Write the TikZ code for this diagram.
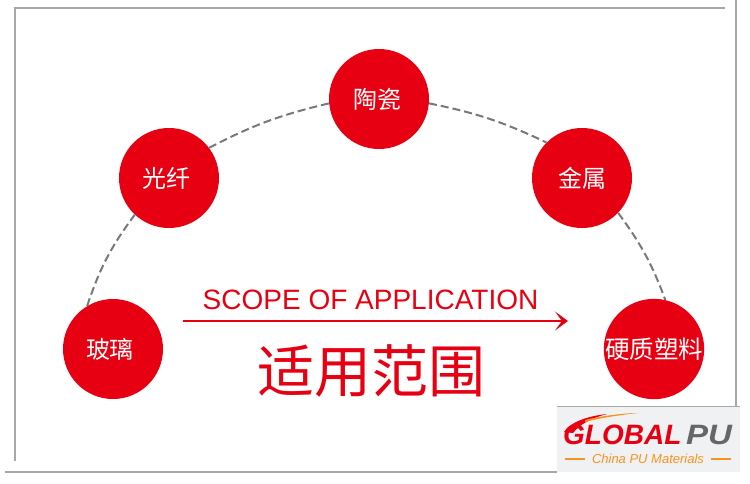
\documentclass[tikz,border=0pt]{standalone}
\usepackage{fontspec}
\setmainfont{Liberation Sans}
\newfontfamily\cjk{Noto Sans CJK SC}
\usetikzlibrary{arrows.meta}
\definecolor{rd}{HTML}{E60012}
\definecolor{framecol}{HTML}{A8A8A8}
\definecolor{dashcol}{HTML}{787878}
\definecolor{org}{HTML}{F7941E}
\definecolor{logobg}{HTML}{F0F1F3}
\tikzset{
 circ/.style={circle,fill=rd,minimum size=100pt,inner sep=0pt,text=white,font=\cjk\fontsize{24}{24}\selectfont},
 arcline/.style={draw=dashcol,line width=2pt,dash pattern=on 8pt off 4pt},
 frameline/.style={draw=framecol,line width=1.5pt}
}
\begin{document}
\begin{tikzpicture}[x=1pt,y=-1pt]
\useasboundingbox (0,0) rectangle (750,483);
\coordinate (f1) at (725,8); \coordinate (f2) at (15,8); \coordinate (f3) at (15,461);
\draw[frameline] (f1) -- (f2) -- (f3);
\coordinate (r1) at (736,0); \coordinate (r2) at (736,406);
\draw[frameline] (r1) -- (r2);
\coordinate (b1) at (5,472); \coordinate (b2) at (557,472);
\draw[frameline] (b1) -- (b2);
\node[circ] (a) at (113,349) {\hspace*{-6pt}玻璃};
\node[circ] (b) at (169,178) {\hspace*{-5pt}光纤};
\node[circ] (c) at (379,99) {\hspace*{-4pt}陶瓷};
\node[circ] (d) at (582,178) {金属};
\node[circ,font=\cjk\fontsize{24.5}{24.5}\selectfont] (e) at (654,349) {硬质塑料};
\draw[arcline] (a.121) to[bend left=9] (b.227);
\draw[arcline] (b.37) to[bend left=7] (c.185);
\draw[arcline] (c.-5) to[bend left=7] (d.135);
\draw[arcline] (d.-44) to[bend left=8] (e.77);
\node[text=rd,font=\fontsize{28}{28}\selectfont,inner sep=0pt] (t1) at (370.5,299.5) {SCOPE OF APPLICATION};
\coordinate (s) at (183,321); \coordinate (t) at (568,321);
\draw[rd,line width=1.6pt,-{Stealth[length=13pt,width=19pt,inset=7pt]}] (s) -- (t);
\node[text=rd,font=\cjk\fontsize{57}{57}\selectfont,inner sep=0pt] (t2) at (371,371) {适用范围};
\fill[logobg] (557,406) rectangle (740,472);
\draw[framecol,line width=1pt] (557,406) -- (740,406);
\fill[rd] (564,432) .. controls (570,422) and (588,416) .. (607,414) .. controls (592,418) and (580,424) .. (573,433) -- cycle;
\fill[org] (585,420) .. controls (600,416) and (625,413) .. (638,413) .. controls (620,415) and (600,418) .. (585,422) -- cycle;
\node[text=rd,font=\bfseries\itshape\fontsize{28}{28}\selectfont,inner sep=0pt,anchor=west] (g) at (563,435) {GLOBAL};
\node[text=black!60,font=\bfseries\itshape\fontsize{28}{28}\selectfont,inner sep=0pt,anchor=west] (p) at (686,435) {\scalebox{1.18}[1]{PU}};
\node[text=org,font=\itshape\fontsize{13}{13}\selectfont,inner sep=0pt] (h) at (648,459) {China PU Materials};
\coordinate (l1) at (565,459); \coordinate (l2) at (585,459);
\coordinate (l3) at (711,459); \coordinate (l4) at (731,459);
\draw[org,line width=1.3pt] (l1) -- (l2) (l3) -- (l4);
\end{tikzpicture}
\end{document}
